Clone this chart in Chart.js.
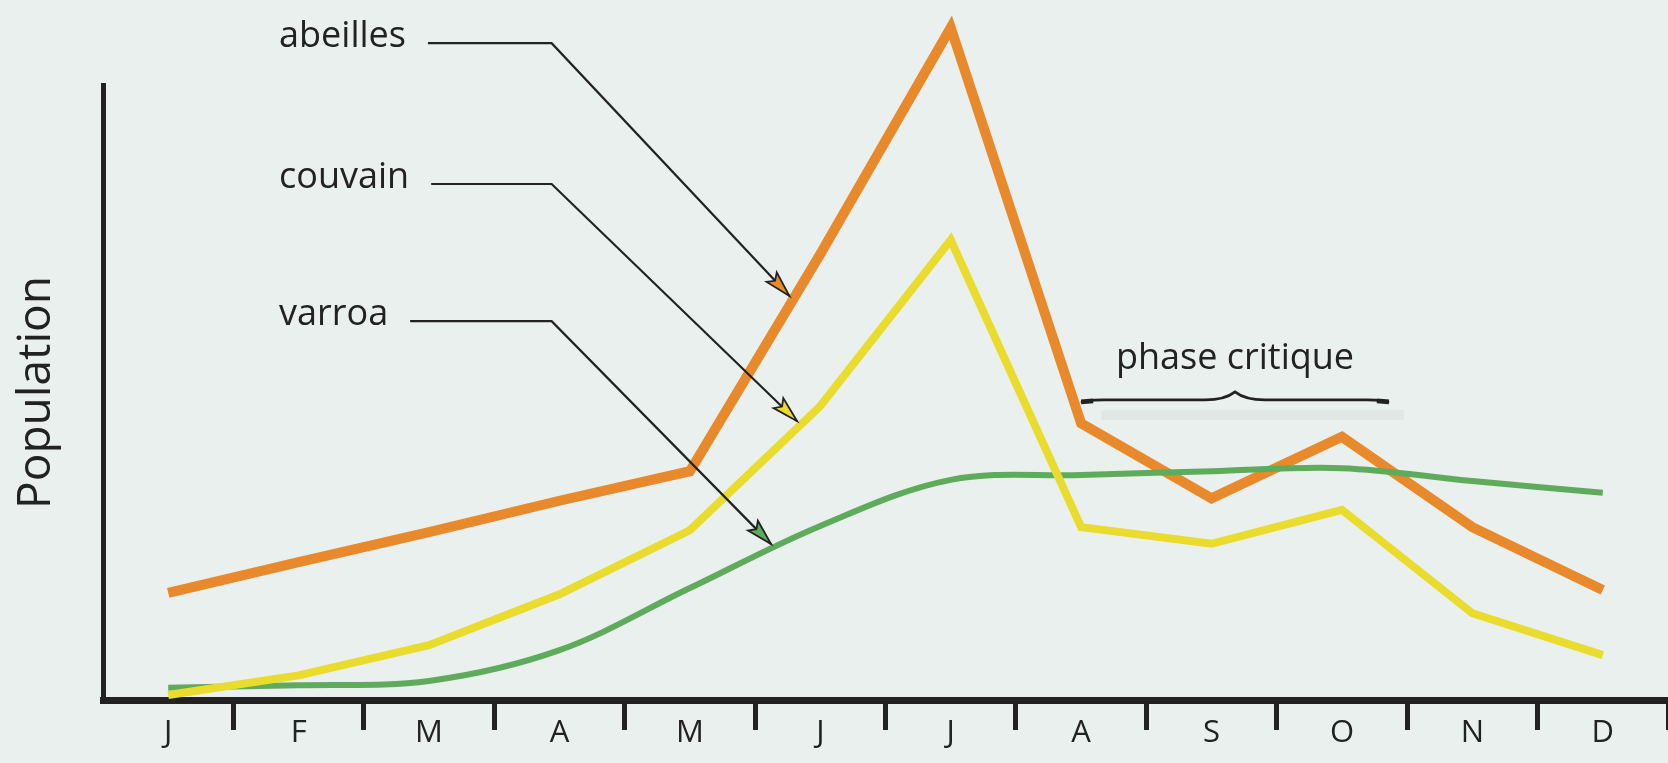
<!DOCTYPE html>
<html>
<head>
<meta charset="utf-8">
<script src="https://cdn.jsdelivr.net/npm/chart.js@4/dist/chart.umd.min.js"></script>
<style>
html, body { margin:0; padding:0; background:#e9f0ee; }
#wrap { width:1668px; height:763px; }
</style>
</head>
<body>
<div id="wrap"><canvas id="myChart" width="1668" height="763"></canvas></div>
<script>
const POLICE = '"Open Sans", "Noto Sans", sans-serif';

// mois de l'année (axe x)
var mois = ['J','F','M','A','M','J','J','A','S','O','N','D'];
// valeurs (échelle 0-100, sans unité)
var abeilles = [17.4, 22.4, 27.3, 32.4, 37.2, 72.5, 109.3, 45.0, 32.8, 42.8, 28.1, 17.9];
var couvain  = [0.8, 4.0, 8.9, 17.2, 27.6, 47.8, 74.8, 28.1, 25.4, 30.9, 14.1, 7.3];
var varroa   = [2.0, 2.4, 3.1, 8.1, 18.2, 28.3, 35.8, 36.6, 37.2, 37.7, 35.6, 33.7];

var ORANGE = '#e88a2b';
var JAUNE = '#e9dc2d';
var VERT = '#5fab5c';
var NOIR = '#222';

// étiquettes avec flèches (position en mois / valeur)
var etiquettes = [
  {texte: 'abeilles', serie: abeilles, x: 0.85, y: 106.8, coude: 2.94, pointe: 4.79, couleur: ORANGE},
  {texte: 'couvain',  serie: couvain,  x: 0.85, y: 83.9,  coude: 2.94, pointe: 4.85, couleur: JAUNE},
  {texte: 'varroa',   serie: varroa,   x: 0.85, y: 61.6,  coude: 2.94, pointe: 4.65, couleur: VERT}
];
var phase = {texte: 'phase critique', debut: 7.0, fin: 9.36, y: 48.8, yTexte: 55.5};

function valeur_serie(serie, x){
  var i = Math.floor(x);
  var f = x - i;
  return serie[i] + (serie[i+1] - serie[i]) * f;
}

function dessiner_fleche(ctx, x1, y1, x2, y2, couleur){
  var ang = Math.atan2(y2 - y1, x2 - x1);
  var L = 26, W = 7;
  var bx = x2 - Math.cos(ang) * L, by = y2 - Math.sin(ang) * L;
  ctx.beginPath();
  ctx.moveTo(x2, y2);
  ctx.lineTo(bx + Math.sin(ang) * W, by - Math.cos(ang) * W);
  ctx.lineTo(bx + Math.cos(ang) * 5, by + Math.sin(ang) * 5);
  ctx.lineTo(bx - Math.sin(ang) * W, by + Math.cos(ang) * W);
  ctx.closePath();
  ctx.fillStyle = couleur;
  ctx.fill();
  ctx.lineWidth = 1.8;
  ctx.strokeStyle = NOIR;
  ctx.stroke();
}

var annotations = {
  id: 'annotations',
  afterDatasetsDraw: function(chart){
    var ctx = chart.ctx;
    var sx = chart.scales.x, sy = chart.scales.y;
    ctx.save();
    ctx.font = '36px ' + POLICE;
    ctx.textBaseline = 'middle';
    ctx.textAlign = 'left';
    etiquettes.forEach(function(e){
      var tx = sx.getPixelForValue(e.x);
      var ly = sy.getPixelForValue(e.y);
      ctx.fillStyle = NOIR;
      ctx.fillText(e.texte, tx, ly - 6);
      var x0 = tx + ctx.measureText(e.texte).width + 22;
      var xc = sx.getPixelForValue(e.coude);
      var xp = sx.getPixelForValue(e.pointe);
      var yp = sy.getPixelForValue(valeur_serie(e.serie, e.pointe));
      // recule un peu la pointe pour toucher le bord de la courbe
      var ang = Math.atan2(yp - ly, xp - xc);
      xp -= Math.cos(ang) * 5; yp -= Math.sin(ang) * 5;
      ctx.beginPath();
      ctx.moveTo(x0, ly);
      ctx.lineTo(xc, ly);
      ctx.lineTo(xp, yp);
      ctx.lineWidth = 2.2;
      ctx.strokeStyle = NOIR;
      ctx.stroke();
      dessiner_fleche(ctx, xc, ly, xp, yp, e.couleur);
    });

    // phase critique + accolade
    var x0 = sx.getPixelForValue(phase.debut);
    var x1 = sx.getPixelForValue(phase.fin);
    var xm = (x0 + x1) / 2;
    var y = sy.getPixelForValue(phase.y);
    ctx.textAlign = 'center';
    ctx.fillStyle = NOIR;
    ctx.fillText(phase.texte, xm, sy.getPixelForValue(phase.yTexte));
    // ombre légère
    ctx.strokeStyle = 'rgba(0,0,0,0.035)';
    ctx.lineWidth = 10;
    ctx.beginPath();
    ctx.moveTo(x0 + 20, y + 15);
    ctx.lineTo(x1 + 15, y + 15);
    ctx.stroke();
    ctx.strokeStyle = NOIR;
    ctx.lineWidth = 2.6;
    ctx.beginPath();
    ctx.moveTo(x0, y + 3);
    ctx.quadraticCurveTo(x0 + 4, y, x0 + 22, y);
    ctx.lineTo(xm - 30, y);
    ctx.quadraticCurveTo(xm - 10, y, xm, y - 8);
    ctx.quadraticCurveTo(xm + 10, y, xm + 30, y);
    ctx.lineTo(x1 - 22, y);
    ctx.quadraticCurveTo(x1 - 4, y, x1, y + 3);
    ctx.stroke();
    ctx.lineWidth = 5;
    ctx.beginPath();
    ctx.moveTo(x0, y + 2); ctx.lineTo(x0 + 12, y + 1);
    ctx.moveTo(x1, y + 2); ctx.lineTo(x1 - 12, y + 1);
    ctx.stroke();
    ctx.restore();
  }
};

var ctx = document.getElementById('myChart').getContext('2d');
var chart = new Chart(ctx, {
  type: 'line',
  data: {
    labels: mois,
    datasets: [
      {label: 'couvain', data: couvain, borderColor: JAUNE, borderWidth: 8, order: 1, tension: 0, clip: false},
      {label: 'varroa', data: varroa, borderColor: VERT, borderWidth: 6, order: 2, tension: 0.35, clip: false},
      {label: 'abeilles', data: abeilles, borderColor: ORANGE, borderWidth: 10, order: 3, tension: 0, clip: false}
    ]
  },
  options: {
    responsive: false,
    animation: false,
    devicePixelRatio: 1,
    layout: {padding: {top: 85, left: 0, right: 0, bottom: 0}},
    elements: {point: {radius: 0, hoverRadius: 0}},
    plugins: {legend: {display: false}, tooltip: {enabled: false}},
    scales: {
      x: {
        offset: true,
        grid: {
          offset: true,
          drawOnChartArea: false,
          tickLength: 30,
          tickWidth: 5,
          tickColor: function(c){ return c.index === 0 ? 'rgba(0,0,0,0)' : NOIR; }
        },
        border: {display: true, color: NOIR, width: 7},
        ticks: {color: NOIR, font: {family: POLICE, size: 31}, padding: -15, maxRotation: 0, autoSkip: false},
        afterFit: function(s){ s.height = 63; }
      },
      y: {
        min: 0,
        max: 100,
        grid: {display: false},
        border: {display: true, color: NOIR, width: 5},
        ticks: {display: false},
        title: {display: true, text: 'Population', color: NOIR, font: {family: POLICE, size: 46}, padding: {top: 9, bottom: 0}},
        afterFit: function(s){ s.width = 103; }
      }
    }
  },
  plugins: [annotations]
});
</script>
</body>
</html>
